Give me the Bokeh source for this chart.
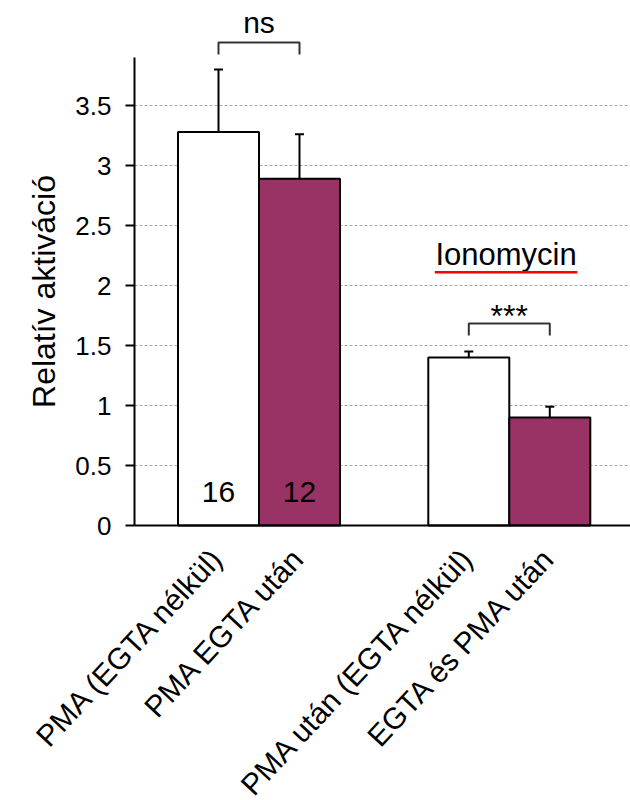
import math
from bokeh.plotting import figure
from bokeh.models import (ColumnDataSource, FixedTicker, NumeralTickFormatter,
                          Range1d)
from bokeh.embed import file_html
from bokeh.resources import INLINE
from bokeh.core.properties import value

# ---------------- data ----------------
categories = ["PMA (EGTA nélkül)", "PMA EGTA után",
              "PMA után (EGTA nélkül)", "EGTA és PMA után"]
groups = [0, 0, 1, 1]
values = [3.28, 2.89, 1.40, 0.90]
errors = [0.52, 0.37, 0.05, 0.09]
counts = ["16", "12"]
colors = ["white", "#993366", "white", "#993366"]
y_ticks = [0, 0.5, 1, 1.5, 2, 2.5, 3, 3.5]
y_axis_top = 3.9
sig_labels = ["ns", "***"]
sig_pairs = [(0, 1), (2, 3)]
sig_heights = [4.025, 1.683]
sig_text_y = [4.19, 1.75]
group_label = "Ionomycin"
y_label = "Relatív aktiváció"

# ---------------- layout ----------------
FONT = "Liberation Sans"
GAP = 1.09
PX_X, PX_Y = 81.0, 120.0
W, H = 630, 800
AXIS_X_PX, AXIS_Y_PX, FIRST_BAR_PX = 134, 525, 218

xs = [i + 1 + g * GAP for i, g in enumerate(groups)]
uppers = [v + e for v, e in zip(values, errors)]

x_start = xs[0] - FIRST_BAR_PX / PX_X
x_end = xs[0] + (W - FIRST_BAR_PX) / PX_X
y_start = -(H - AXIS_Y_PX) / PX_Y
y_end = AXIS_Y_PX / PX_Y
x_axis_pos = xs[0] - (FIRST_BAR_PX - AXIS_X_PX) / PX_X

p = figure(width=W, height=H, x_range=Range1d(x_start, x_end),
           y_range=Range1d(y_start, y_end), output_backend="svg",
           toolbar_location=None, min_border=0, min_border_left=0,
           min_border_right=0, min_border_top=0, min_border_bottom=0)
p.outline_line_color = None
p.background_fill_color = "white"
p.border_fill_color = "white"
p.xgrid.visible = False
p.ygrid.visible = False

src = ColumnDataSource(dict(x=xs, top=values, upper=uppers, color=colors,
                            name=categories))

# dashed horizontal grid lines (from the y axis to the right edge)
grid_y = y_ticks[1:]
p.segment(x0=[x_axis_pos] * len(grid_y), y0=grid_y,
          x1=[x_end] * len(grid_y), y1=grid_y,
          line_color="#a6a6a6", line_dash="3 2", line_width=1)

# bars
p.vbar(x="x", top="top", bottom=0, width=1.0, fill_color="color",
       line_color="black", line_width=2, source=src)

# error bars (upper only)
p.segment(x0="x", y0="top", x1="x", y1="upper", line_color="black",
          line_width=2, source=src)
p.dash(x="x", y="upper", size=9, line_color="black", line_width=2,
       source=src)

# significance brackets
for (a, b), h, lab, ty in zip(sig_pairs, sig_heights, sig_labels, sig_text_y):
    p.line(x=[xs[a], xs[a], xs[b], xs[b]], y=[h - 0.1, h, h, h - 0.1],
           line_color="#333333", line_width=2)
    p.text(x=[(xs[a] + xs[b]) / 2], y=[ty], text=[lab], text_align="center",
           text_baseline="alphabetic", text_font=value(FONT),
           text_font_size="30px" if lab == "ns" else "32px",
           text_color="black")

# Ionomycin label with red underline
ion_x = (xs[2] + xs[3]) / 2 - 0.04
p.text(x=[ion_x], y=[2.257], text=[group_label], text_align="center",
       text_baseline="alphabetic", text_font=value(FONT),
       text_font_size="31px", text_color="black")
p.segment(x0=[ion_x - 0.88], y0=[2.11], x1=[ion_x + 0.88], y1=[2.11],
          line_color="#ff0000", line_width=2.5)

# n counts
p.text(x=xs[:len(counts)], y=[0.28] * len(counts), text=counts,
       text_align="center", text_baseline="alphabetic",
       text_font=value(FONT), text_font_size="30px", text_color="black")

# x axis: drawn at y = 0 inside the frame, with rotated category labels
xa = p.xaxis[0]
xa.fixed_location = 0
xa.bounds = (x_axis_pos, x_end)
xa.ticker = FixedTicker(ticks=xs)
xa.major_label_overrides = {x: c for x, c in zip(xs, categories)}
xa.major_label_orientation = math.radians(47)
xa.major_label_text_font = FONT
xa.major_label_text_font_size = "30px"
xa.major_label_text_color = "black"
xa.major_label_standoff = 26
xa.axis_line_width = 2
xa.axis_line_color = "black"
xa.major_tick_out = 0
xa.major_tick_in = 0
xa.major_tick_line_color = None
xa.minor_tick_line_color = None

# y axis: drawn at the left edge of the bars area
ya = p.yaxis[0]
ya.fixed_location = x_axis_pos
ya.ticker = FixedTicker(ticks=y_ticks)
ya.formatter = NumeralTickFormatter(format="0.[0]")
ya.bounds = (0, y_axis_top)
ya.axis_line_width = 2
ya.axis_line_color = "black"
ya.major_tick_out = 9
ya.major_tick_in = 0
ya.major_tick_line_width = 2
ya.major_tick_line_color = "black"
ya.minor_tick_line_color = None
ya.major_label_text_font = FONT
ya.major_label_text_font_size = "26px"
ya.major_label_text_color = "black"
ya.major_label_standoff = 14
ya.axis_label = y_label
ya.axis_label_text_font = FONT
ya.axis_label_text_font_size = "32px"
ya.axis_label_text_font_style = "normal"
ya.axis_label_text_color = "black"
ya.axis_label_standoff = 10

open("out.html", "w").write(file_html(p, INLINE))
